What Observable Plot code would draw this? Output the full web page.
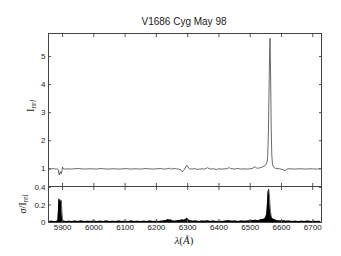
<!DOCTYPE html>
<html><head><meta charset="utf-8">
<script src="https://cdn.jsdelivr.net/npm/d3@7"></script>
<script src="https://cdn.jsdelivr.net/npm/@observablehq/plot@0.6"></script>
<style>
body{margin:0;background:#fff;}
#c{position:relative;width:341px;height:256px;font-family:"Liberation Sans",Arial,sans-serif;color:#222;overflow:hidden;}
#c svg{position:absolute;left:0;overflow:visible;}
.lab{position:absolute;white-space:nowrap;transform:translate(-50%,-50%);font-family:"Liberation Serif","DejaVu Serif",serif;line-height:1;color:#222;}
.rot{transform:translate(-50%,-50%) rotate(-90deg);}
sub{font-style:italic;font-size:0.72em;vertical-align:-0.25em;}
</style></head>
<body><div id="c"></div>
<script>
const title = "V1686 Cyg May 98";
const xTicks = [5900, 6000, 6100, 6200, 6300, 6400, 6500, 6600, 6700];
const yTopTicks = [1, 2, 3, 4, 5];
const yBotTicks = [0, 0.2, 0.4];

const specLam = [5856,5862,5868,5874,5880,5884,5886,5888,5890,5892,5894,5896,5898,5900,5902,5908,5916,5926,5936,5948,5960,5972,5984,5996,6008,6020,6032,6044,6056,6068,6080,6092,6104,6116,6128,6140,6152,6164,6176,6188,6200,6212,6224,6234,6242,6248,6256,6264,6272,6278,6283,6287,6292,6297,6301,6306,6314,6322,6330,6338,6346,6354,6360,6364,6368,6374,6382,6392,6400,6410,6420,6428,6433,6437,6444,6452,6458,6464,6472,6480,6490,6498,6506,6512,6516,6520,6526,6532,6538,6544,6548,6551,6554,6556,6558,6560,6562,6563.5,6565,6567,6569,6571,6573,6576,6580,6586,6594,6602,6608,6611,6615,6620,6630,6640,6652,6664,6676,6688,6700,6712,6724];
const specI = [1.00,0.99,1.01,1.00,0.99,1.00,0.97,0.84,0.78,0.90,0.86,0.82,0.95,1.06,1.00,0.99,1.00,0.99,1.00,1.01,1.00,0.99,1.00,1.00,0.99,1.01,1.00,0.99,1.00,1.00,0.99,1.00,1.01,0.99,1.00,1.00,0.99,1.01,1.00,0.99,1.00,1.01,0.99,1.00,1.02,0.99,1.01,1.00,0.99,0.97,0.89,0.94,1.03,1.13,1.07,1.00,0.99,1.01,0.98,0.99,1.00,0.99,1.02,1.04,1.01,0.99,1.00,0.98,1.00,0.99,1.00,1.01,1.05,1.01,1.00,0.99,1.02,1.00,0.99,1.00,0.99,1.00,1.01,1.05,1.07,1.03,1.02,1.04,1.06,1.09,1.12,1.17,1.24,1.45,2.2,3.6,5.1,5.65,4.6,2.6,1.5,1.2,1.1,1.05,1.02,1.01,1.00,0.98,0.95,0.93,0.97,1.00,1.00,0.99,1.00,1.00,0.99,1.00,1.00,0.99,1.00];

const sigLam = [5856,5864,5872,5880,5885,5887,5888,5890,5892,5894,5896,5898,5900,5904,5912,5920,5930,5940,5950,5960,5970,5980,5990,6000,6010,6020,6030,6040,6050,6060,6070,6080,6090,6100,6110,6120,6130,6140,6150,6160,6170,6180,6190,6200,6210,6220,6230,6238,6242,6246,6252,6260,6268,6276,6282,6288,6294,6298,6302,6308,6316,6326,6336,6346,6356,6364,6372,6382,6392,6402,6412,6422,6432,6442,6452,6462,6472,6482,6492,6502,6510,6518,6526,6534,6540,6546,6550,6553,6555,6557,6559,6561,6563,6565,6568,6572,6578,6586,6596,6606,6614,6624,6634,6644,6654,6664,6674,6684,6694,6704,6714,6724];
const sigV = [0.01,0.015,0.01,0.012,0.02,0.15,0.27,0.24,0.26,0.22,0.25,0.12,0.03,0.015,0.01,0.014,0.01,0.016,0.012,0.018,0.01,0.014,0.012,0.016,0.01,0.015,0.012,0.018,0.011,0.014,0.01,0.016,0.012,0.015,0.011,0.017,0.012,0.014,0.01,0.015,0.012,0.017,0.011,0.014,0.012,0.016,0.02,0.035,0.025,0.03,0.018,0.015,0.02,0.022,0.03,0.025,0.035,0.05,0.03,0.02,0.015,0.018,0.012,0.016,0.014,0.02,0.012,0.016,0.011,0.015,0.012,0.017,0.02,0.013,0.016,0.012,0.018,0.013,0.016,0.02,0.022,0.025,0.02,0.03,0.035,0.04,0.06,0.1,0.2,0.34,0.38,0.33,0.22,0.12,0.06,0.04,0.03,0.02,0.016,0.02,0.013,0.016,0.012,0.015,0.011,0.014,0.012,0.016,0.011,0.014,0.012,0.013];

const spec = specLam.map((l, i) => ({l, v: specI[i]}));
const sig = sigLam.map((l, i) => ({l, v: sigV[i]}));

const C = document.getElementById("c");
const st = {fontSize: "8px", fontFamily: "'Liberation Sans', Arial, sans-serif", color: "#222", background: "transparent"};
const xDom = [5855, 6728];
const blank = () => "";
const plain = d => String(d);

const topPlot = Plot.plot({
  width: 341, height: 190,
  marginTop: 33, marginBottom: 4, marginLeft: 48, marginRight: 20,
  style: st,
  x: {domain: xDom},
  y: {domain: [0.37, 5.82]},
  marks: [
    Plot.axisY({anchor: "left", ticks: yTopTicks, tickSize: -3, tickPadding: 6, tickFormat: plain, label: null, stroke: "#555"}),
    Plot.axisY({anchor: "right", ticks: yTopTicks, tickSize: -3, tickFormat: blank, label: null, stroke: "#555"}),
    Plot.axisX({anchor: "top", ticks: xTicks, tickSize: -3, tickFormat: blank, label: null, stroke: "#555"}),
    Plot.axisX({anchor: "bottom", ticks: xTicks, tickSize: -3, tickFormat: blank, label: null, stroke: "#555"}),
    Plot.line(spec, {x: "l", y: "v", stroke: "#444", strokeWidth: 0.8}),
    Plot.frame({stroke: "#444"})
  ]
});
topPlot.style.top = "0px";
C.appendChild(topPlot);

const botPlot = Plot.plot({
  width: 341, height: 76,
  marginTop: 6, marginBottom: 34, marginLeft: 48, marginRight: 20,
  style: st,
  x: {domain: xDom},
  y: {domain: [0, 0.41]},
  marks: [
    Plot.areaY(sig, {x: "l", y: "v", fill: "#000"}),
    Plot.line(sig, {x: "l", y: "v", stroke: "#000", strokeWidth: 0.6}),
    Plot.axisY({anchor: "left", ticks: yBotTicks, tickSize: -3, tickPadding: 6, tickFormat: plain, label: null, stroke: "#555"}),
    Plot.axisY({anchor: "right", ticks: yBotTicks, tickSize: -3, tickFormat: blank, label: null, stroke: "#555"}),
    Plot.axisX({anchor: "top", ticks: xTicks, tickSize: -3, tickFormat: blank, label: null, stroke: "#555"}),
    Plot.axisX({anchor: "bottom", ticks: xTicks, tickSize: -3, tickPadding: 5, tickFormat: plain, label: null, stroke: "#555"}),
    Plot.frame({stroke: "#444"})
  ]
});
botPlot.style.top = "180px";
C.appendChild(botPlot);

function addLabel(html, x, y, size, rot, fam) {
  const d = document.createElement("div");
  d.className = "lab" + (rot ? " rot" : "");
  d.style.left = x + "px";
  d.style.top = y + "px";
  d.style.fontSize = size + "px";
  if (fam) d.style.fontFamily = fam;
  d.innerHTML = html;
  C.appendChild(d);
}
addLabel(title, 184, 22, 10, false, "'Liberation Sans', Arial, sans-serif");
addLabel("I<sub>rel</sub>", 31, 106, 11, true);
addLabel("<i>σ</i>/I<sub>rel</sub>", 24, 204, 10, true);
addLabel("<i>λ</i>(<i>Å</i>)", 184, 240, 11, false);
</script></body></html>
